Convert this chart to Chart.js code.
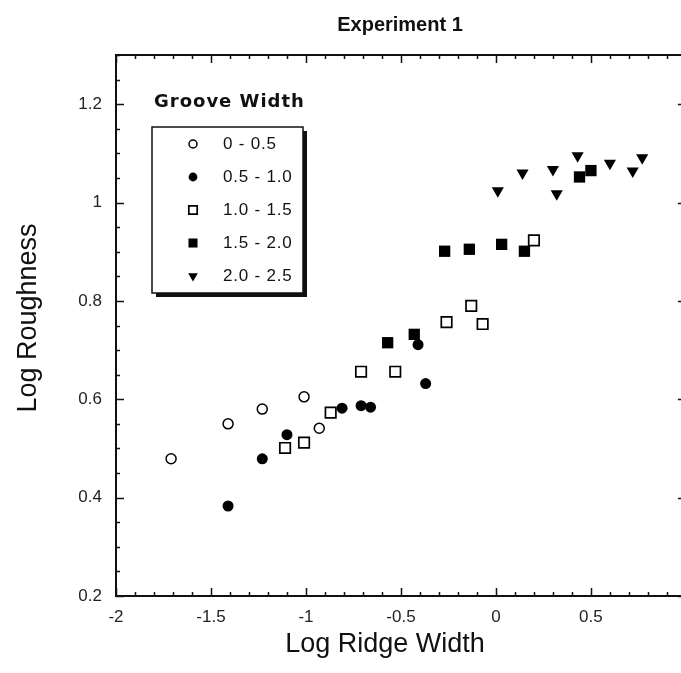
<!DOCTYPE html>
<html>
<head>
<meta charset="utf-8">
<script src="https://cdn.jsdelivr.net/npm/chart.js@4/dist/chart.umd.min.js"></script>
<style>
  html, body { margin: 0; padding: 0; background: #fff; overflow: hidden; }
  #wrap { position: absolute; left: 0; top: 0; width: 695px; height: 673px; }
  #grafico { width: 695px; height: 673px; display: block; }
</style>
</head>
<body>
<div id="wrap"><canvas id="grafico" width="695" height="673"></canvas></div>
<script>
// groove width groups (legend labels)
const groups = ["0 - 0.5", "0.5 - 1.0", "1.0 - 1.5", "1.5 - 2.0", "2.0 - 2.5"];

// log ridge width / log roughness
const g1x = [-1.71, -1.41, -1.23, -1.01, -0.93];
const g1y = [0.479, 0.550, 0.580, 0.605, 0.541];

const g2x = [-1.41, -1.23, -1.10, -0.81, -0.71, -0.66, -0.41, -0.37];
const g2y = [0.383, 0.479, 0.528, 0.582, 0.587, 0.584, 0.711, 0.632];

const g3x = [-1.11, -1.01, -0.87, -0.71, -0.53, -0.26, -0.13, -0.07, 0.20];
const g3y = [0.501, 0.512, 0.573, 0.656, 0.656, 0.757, 0.790, 0.753, 0.923];

const g4x = [-0.57, -0.43, -0.27, -0.14, 0.03, 0.15, 0.44, 0.50];
const g4y = [0.715, 0.732, 0.901, 0.905, 0.915, 0.901, 1.052, 1.065];

const g5x = [0.01, 0.14, 0.30, 0.32, 0.43, 0.60, 0.72, 0.77];
const g5y = [1.024, 1.060, 1.067, 1.018, 1.095, 1.080, 1.064, 1.091];

// tick labels
const xTicks = [-2, -1.5, -1, -0.5, 0, 0.5];
const yTicks = [0.2, 0.4, 0.6, 0.8, 1, 1.2];

const pts = (xs, ys) => xs.map((x, i) => ({ x: x, y: ys[i] }));

const estilos = [
  { pointStyle: "circle", radius: 5, bg: "#fff", bw: 1.5 },
  { pointStyle: "circle", radius: 5.5, bg: "#000", bw: 0 },
  { pointStyle: "rect", radius: 7.4, bg: "#fff", bw: 1.7 },
  { pointStyle: "rect", radius: 8, bg: "#000", bw: 0 },
  { pointStyle: "triangle", radius: 7, bg: "#000", bw: 0, rotation: 180 },
];
const series = [pts(g1x, g1y), pts(g2x, g2y), pts(g3x, g3y), pts(g4x, g4y), pts(g5x, g5y)];

const datasets = groups.map((nome, i) => ({
  label: nome,
  data: series[i],
  pointStyle: estilos[i].pointStyle,
  pointRadius: estilos[i].radius,
  pointHoverRadius: estilos[i].radius,
  pointRotation: estilos[i].rotation || 0,
  pointBackgroundColor: estilos[i].bg,
  pointBorderColor: "#000",
  pointBorderWidth: estilos[i].bw,
  showLine: false,
}));

const FONTE = "'Liberation Sans', Arial, sans-serif";

// frame, inward ticks, titles and the boxed legend
const moldura = {
  id: "moldura",
  afterDraw(chart) {
    const { ctx, chartArea: a, scales } = chart;
    const sx = scales.x, sy = scales.y;
    ctx.save();
    ctx.strokeStyle = "#111";
    ctx.lineWidth = 2;
    ctx.strokeRect(a.left, a.top, a.right - a.left, a.bottom - a.top);

    ctx.lineWidth = 1.5;
    ctx.beginPath();
    for (let k = -20; k <= 10; k++) {
      const px = Math.round(sx.getPixelForValue(k / 10)) + 0.5;
      const len = k % 5 === 0 ? 8 : 4;
      ctx.moveTo(px, a.bottom); ctx.lineTo(px, a.bottom - len);
      ctx.moveTo(px, a.top); ctx.lineTo(px, a.top + len);
    }
    for (let k = 4; k <= 26; k++) {
      const py = Math.round(sy.getPixelForValue(k / 20)) + 0.5;
      const len = k % 4 === 0 ? 8 : 4;
      ctx.moveTo(a.left, py); ctx.lineTo(a.left + len, py);
      ctx.moveTo(a.right, py); ctx.lineTo(a.right - len, py);
    }
    ctx.stroke();

    ctx.fillStyle = "#111";
    ctx.textAlign = "center";
    ctx.textBaseline = "middle";
    ctx.font = "bold 20px " + FONTE;
    ctx.fillText("Experiment 1", 400, 25);

    ctx.font = "27px " + FONTE;
    ctx.fillText("Log Ridge Width", 385, 645);
    ctx.save();
    ctx.translate(29, 318);
    ctx.rotate(-Math.PI / 2);
    ctx.fillText("Log Roughness", 0, 0);
    ctx.restore();

    // legend
    ctx.textAlign = "left";
    ctx.font = "bold 18px 'DejaVu Sans', sans-serif";
    ctx.letterSpacing = "1px";
    ctx.fillText("Groove Width", 154, 102);
    ctx.letterSpacing = "0px";

    const bx = 152, by = 127, bw = 151, bh = 166;
    ctx.fillStyle = "#111";
    ctx.fillRect(bx + 4, by + 4, bw, bh);
    ctx.fillStyle = "#fff";
    ctx.fillRect(bx, by, bw, bh);
    ctx.lineWidth = 1.5;
    ctx.strokeStyle = "#111";
    ctx.strokeRect(bx, by, bw, bh);

    ctx.font = "17px " + FONTE;
    ctx.letterSpacing = "0.8px";
    chart.data.datasets.forEach((ds, i) => {
      const y = 144 + i * 33;
      ctx.fillStyle = ds.pointBackgroundColor;
      ctx.strokeStyle = "#000";
      ctx.lineWidth = ds.pointBorderWidth;
      Chart.helpers.drawPoint(ctx, {
        pointStyle: ds.pointStyle,
        rotation: ds.pointRotation,
        radius: ds.pointRadius * 0.8,
        borderWidth: ds.pointBorderWidth,
      }, 193, y);
      ctx.fillStyle = "#111";
      ctx.fillText(ds.label, 223, y);
    });
    ctx.letterSpacing = "0px";
    ctx.restore();
  },
};

document.addEventListener("DOMContentLoaded", () => {
  const ctx = document.getElementById("grafico").getContext("2d");
  new Chart(ctx, {
    type: "scatter",
    data: { datasets: datasets },
    plugins: [moldura],
    options: {
      responsive: false,
      animation: false,
      events: [],
      layout: { padding: { top: 55, right: 4, left: 0, bottom: 0 } },
      plugins: { legend: { display: false }, title: { display: false }, tooltip: { enabled: false } },
      scales: {
        x: {
          type: "linear",
          min: -2,
          max: 1,
          afterBuildTicks: (s) => { s.ticks = xTicks.map((v) => ({ value: v })); },
          afterFit: (s) => { s.height = 77; s.paddingLeft = 0; s.paddingRight = 0; },
          grid: { display: false, drawTicks: false },
          border: { display: false },
          ticks: {
            color: "#222", padding: 11, maxRotation: 0,
            font: { family: FONTE, size: 17 },
            callback: (v) => String(v),
          },
        },
        y: {
          type: "linear",
          min: 0.2,
          max: 1.3,
          afterBuildTicks: (s) => { s.ticks = yTicks.map((v) => ({ value: v })); },
          afterFit: (s) => { s.width = 116; },
          grid: { display: false, drawTicks: false },
          border: { display: false },
          ticks: {
            color: "#222", padding: 14,
            font: { family: FONTE, size: 17 },
            callback: (v) => String(v),
          },
        },
      },
    },
  });
});
</script>
</body>
</html>
